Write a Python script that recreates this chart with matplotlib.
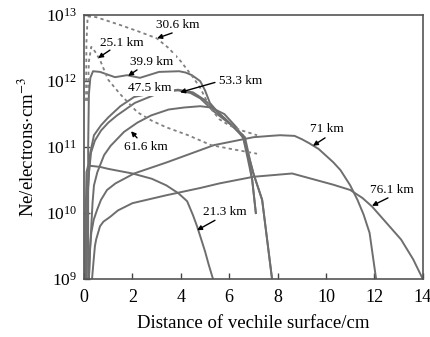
import numpy as np
import matplotlib
matplotlib.use('Agg')
import matplotlib.pyplot as plt

plt.rcParams['font.family'] = ['Liberation Serif', 'DejaVu Serif']
plt.rcParams['mathtext.fontset'] = 'stix'

# curves: distance (cm) and log10(Ne)
x_213 = [0.05, 0.07, 0.1, 0.17, 0.66, 1.0, 2.0, 2.8, 3.4, 3.9, 4.26, 4.5, 4.67, 5.0, 5.15, 5.33]
y_213 = [9.0, 10.0, 10.62, 10.72, 10.7, 10.67, 10.6, 10.52, 10.42, 10.3, 10.18, 9.97, 9.8, 9.42, 9.22, 9.0]

x_251 = [0.15, 0.2, 0.3, 0.45, 0.66, 1.0, 1.5, 2.2, 2.8, 3.4, 4.3, 5.25, 6.1, 7.15]
y_251 = [11.7, 12.3, 12.52, 12.45, 12.32, 12.02, 11.8, 11.53, 11.4, 11.3, 11.18, 11.03, 10.97, 10.9]

x_306 = [0.08, 0.1, 0.15, 0.5, 1.5, 2.2, 3.0, 3.5, 4.0, 4.5, 4.8, 5.2, 5.6, 6.0, 6.45, 7.15]
y_306 = [11.7, 12.6, 12.98, 12.97, 12.85, 12.76, 12.65, 12.5, 12.3, 12.06, 11.9, 11.6, 11.42, 11.33, 11.26, 11.18]

x_399 = [0.17, 0.17, 0.2, 0.26, 0.37, 0.66, 1.28, 1.78, 2.31, 3.1, 3.93, 4.2, 4.46, 4.8, 5.0, 5.2,
         5.6, 6.03, 6.57, 6.78, 6.95, 7.1]
y_399 = [9.0, 11.0, 11.8, 12.05, 12.15, 12.14, 12.06, 12.09, 12.05, 12.14, 12.15, 12.13, 12.09, 12.0, 11.86, 11.67,
         11.5, 11.36, 11.15, 10.8, 10.5, 10.0]

x_475 = [0.08, 0.12, 0.2, 0.29, 0.45, 0.7, 1.0, 1.36, 2.1, 2.9, 3.5, 3.88, 4.5, 5.0, 5.4, 5.8, 6.2,
         6.57, 6.8, 6.95, 7.1]
y_475 = [9.0, 10.0, 10.6, 10.92, 11.1, 11.25, 11.37, 11.48, 11.67, 11.79, 11.85, 11.87, 11.83, 11.71, 11.57, 11.44, 11.3,
         11.18, 10.85, 10.5, 10.0]

x_533 = [0.1, 0.15, 0.25, 0.41, 0.7, 1.0, 1.5, 2.07, 3.0, 3.88, 4.4, 4.8, 5.4, 6.1, 6.65, 6.86, 7.0, 7.36, 7.77]
y_533 = [9.0, 10.3, 10.9, 11.18, 11.33, 11.45, 11.62, 11.76, 11.83, 11.86, 11.82, 11.74, 11.53, 11.33, 11.15, 10.8, 10.6, 10.2, 9.0]

x_616 = [0.2, 0.25, 0.3, 0.35, 0.41, 0.55, 0.83, 1.1, 1.65, 2.2, 2.77, 3.5, 4.13, 4.8, 5.25, 5.8, 6.3, 6.6,
         6.85, 7.0, 7.36, 7.77]
y_616 = [9.0, 9.45, 9.8, 10.15, 10.42, 10.62, 10.88, 11.02, 11.23, 11.37, 11.48, 11.57, 11.6, 11.62, 11.6, 11.5, 11.3, 11.12,
         10.8, 10.6, 10.2, 9.0]

x_71 = [0.2, 0.25, 0.3, 0.4, 0.54, 0.7, 0.95, 1.3, 2.07, 3.43, 5.37, 7.0, 7.7, 8.1, 8.7, 9.0, 9.3, 9.7,
        10.0, 10.3, 10.6, 11.0, 11.3, 11.55, 11.8, 12.07]
y_71 = [9.0, 9.48, 9.7, 9.9, 10.05, 10.2, 10.35, 10.45, 10.6, 10.77, 11.03, 11.15, 11.17, 11.18, 11.17, 11.12, 11.06, 10.97,
        10.87, 10.77, 10.65, 10.42, 10.2, 9.98, 9.7, 9.0]

x_761 = [0.33, 0.4, 0.45, 0.5, 0.66, 0.8, 1.07, 1.4, 2.0, 3.4, 4.8, 5.6, 7.0, 8.6, 9.6, 10.3, 11.0, 11.5,
         11.9, 12.5, 13.1, 13.6, 14.0]
y_761 = [9.0, 9.3, 9.5, 9.6, 9.8, 9.87, 9.94, 10.04, 10.15, 10.27, 10.38, 10.45, 10.55, 10.6, 10.5, 10.43, 10.35, 10.23,
         10.1, 9.85, 9.6, 9.3, 9.0]

solid = [(x_213, y_213), (x_399, y_399), (x_475, y_475), (x_533, y_533),
         (x_616, y_616), (x_71, y_71), (x_761, y_761)]
dotted = [(x_251, y_251), (x_306, y_306)]

# label text, text position, arrow tail, arrow tip (cm, log10 Ne)
labels = [
    ('30.6 km', (3.88, 12.85), (3.64, 12.73), (3.02, 12.65)),
    ('25.1 km', (1.57, 12.58), (1.07, 12.47), (0.58, 12.35)),
    ('39.9 km', (2.81, 12.29), (2.19, 12.17), (1.82, 12.08)),
    ('47.5 km', (2.73, 11.89), None, None),
    ('53.3 km', (6.49, 12.0), (5.41, 11.98), (3.97, 11.83)),
    ('61.6 km', (2.56, 11.0), (2.19, 11.14), (1.94, 11.24)),
    ('71 km', (10.04, 11.27), (9.96, 11.14), (9.46, 11.02)),
    ('76.1 km', (12.73, 10.35), (12.56, 10.23), (11.9, 10.11)),
    ('21.3 km', (5.83, 10.02), (5.41, 9.89), (4.67, 9.74)),
]

fig = plt.figure(figsize=(4.31, 3.37), dpi=100)
ax = fig.add_axes([0.195, 0.172, 0.786, 0.783])

lc = '#6e6e6e'
for xs, ys in solid:
    ax.plot(xs, 10 ** np.array(ys), color=lc, lw=1.4, zorder=2, solid_joinstyle='round')
for xs, ys in dotted:
    ax.plot(xs, 10 ** np.array(ys), color='#808080', lw=1.3, ls=(0, (1.8, 1.8)), zorder=2)

for txt, pos, tail, tip in labels:
    ax.text(pos[0], 10 ** pos[1], txt, fontsize=9.5, ha='center', va='center', zorder=5,
            bbox=dict(boxstyle='square,pad=0.15', fc='white', ec='none'))
    if tail is not None:
        ax.annotate('', xy=(tip[0], 10 ** tip[1]), xytext=(tail[0], 10 ** tail[1]),
                    arrowprops=dict(arrowstyle='-|>', color='black', lw=1.0,
                                    mutation_scale=7, shrinkA=0, shrinkB=0), zorder=6)

ax.set_yscale('log')
ax.set_xlim(0, 14)
ax.set_ylim(1e9, 1e13)
ax.set_xticks(np.arange(0, 15, 2))
ax.set_yticks([1e9, 1e10, 1e11, 1e12, 1e13])
ax.minorticks_off()
ax.tick_params(direction='in', length=4, width=1.0, labelsize=12.5, color='#444444', pad=5)
ax.tick_params(axis='x', labelsize=13, pad=7)
for s in ax.spines.values():
    s.set_color('#555555')
    s.set_linewidth(1.2)

ax.set_xlabel('Distance of vechile surface/cm', fontsize=13.5, labelpad=7)
ax.set_ylabel('Ne/electrons$\\cdot$cm$^{-3}$', fontsize=13.5, labelpad=6)

plt.savefig('out.png', dpi=100)
